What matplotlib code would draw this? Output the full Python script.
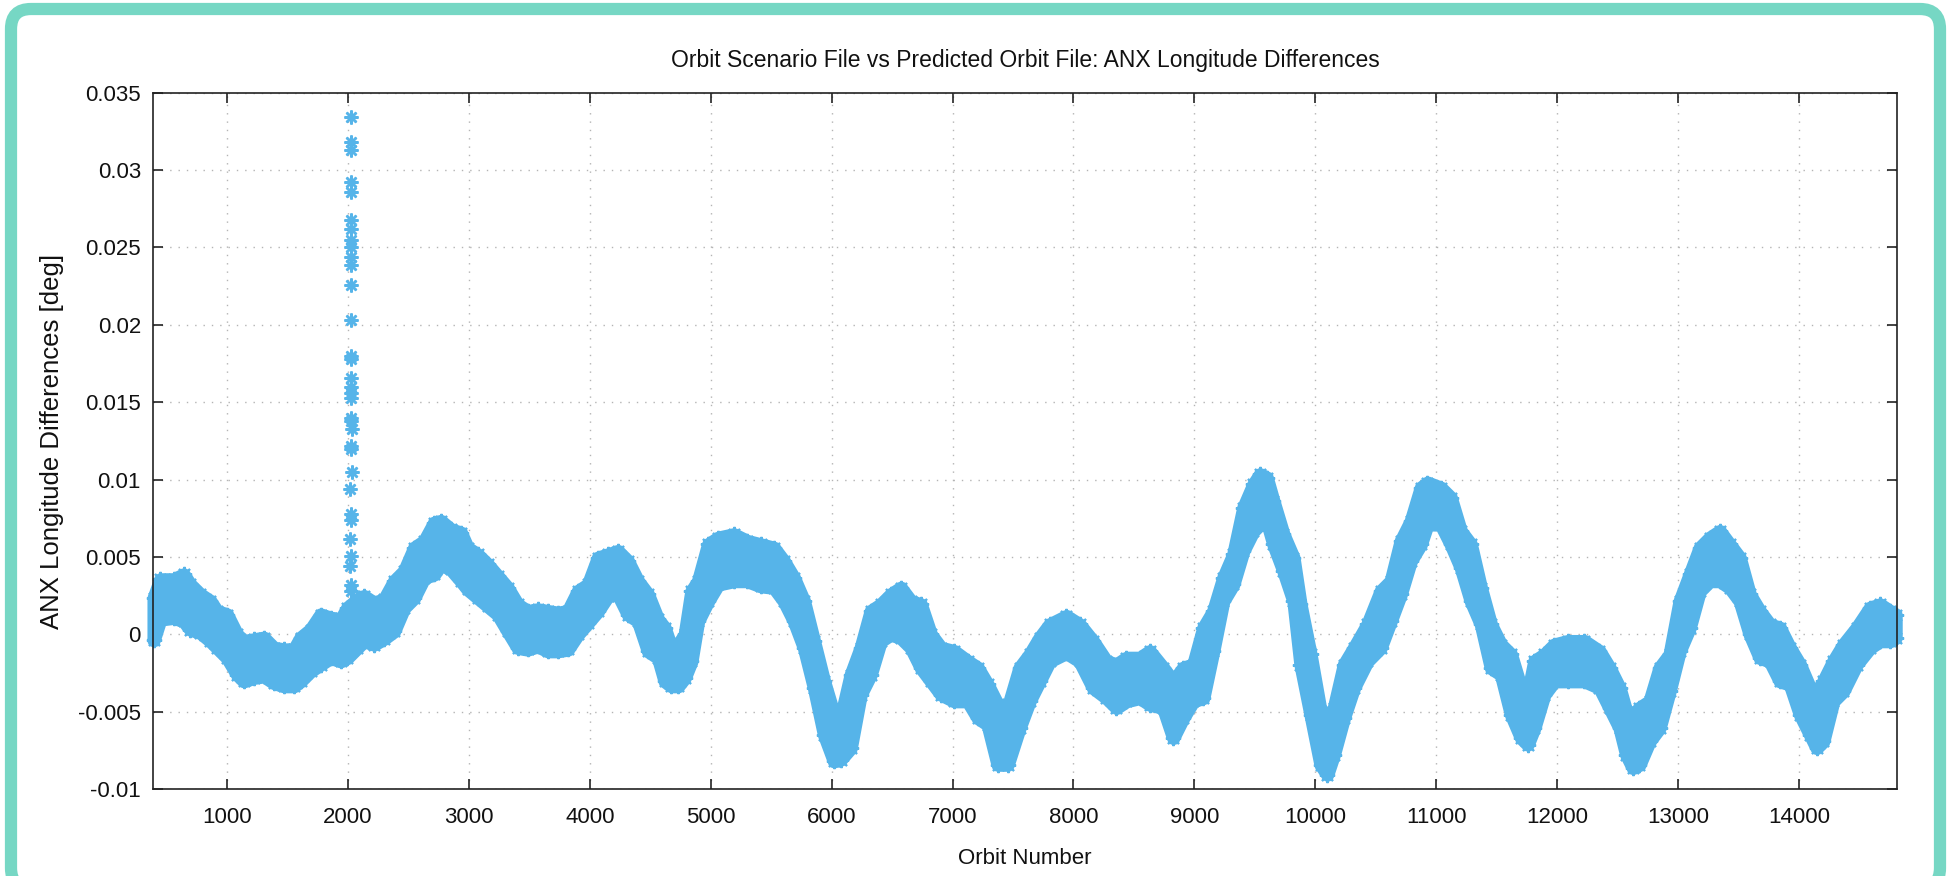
import numpy as np
import matplotlib
matplotlib.use("Agg")
import matplotlib.pyplot as plt
from matplotlib.patches import FancyBboxPatch

plt.rcParams['font.family'] = ['Liberation Sans', 'DejaVu Sans']

# ---- data (orbit number, band envelope in millidegrees) ----
orbit = [392, 447, 557, 640, 695, 778, 861, 916, 999, 1082, 1138, 1220, 1303, 1386, 1469,
         1552, 1607, 1690, 1773, 1856, 1939, 1994, 2077, 2132, 2215, 2298, 2381, 2464,
         2547, 2630, 2712, 2768,
         2851, 2934, 2989, 3072, 3155, 3238, 3320, 3403, 3486, 3569, 3652, 3735, 3818,
         3901, 3984, 4067, 4149, 4232, 4315, 4398, 4481, 4564, 4619, 4674, 4730, 4785,
         4840, 4895, 4978, 5061,
         5191, 5301, 5412, 5522, 5605, 5688, 5771, 5854, 5937, 6019, 6075, 6158, 6240,
         6323, 6406, 6489, 6572, 6655, 6738, 6821, 6904, 7014, 7125, 7208, 7290, 7373, 7456,
         7554, 7637, 7720, 7803, 7941, 8051, 8162, 8272, 8355, 8438, 8549, 8631, 8742,
         8825, 8908, 8991, 9074, 9156, 9239, 9322, 9405, 9488, 9543, 9599, 9654, 9737, 9820,
         9878, 9961, 10044, 10099, 10154, 10237, 10320, 10431, 10541, 10624, 10707, 10790,
         10873, 10928, 11038, 11121, 11204, 11287, 11370, 11453, 11536, 11619, 11702,
         11757, 11812, 11895, 11978, 12088, 12227,
         12351, 12434, 12517, 12572, 12627, 12682, 12765, 12848, 12931, 13014, 13097,
         13180, 13263, 13346, 13428, 13511, 13594, 13677, 13760, 13843, 13926, 14009,
         14092, 14147, 14202, 14285, 14368, 14478, 14589, 14672, 14755, 14800]

upper_mdeg = [2.8, 3.99, 3.99, 4.31, 3.66, 3.02, 2.59, 1.94, 1.72, 0.43, 0.00, 0.11, 0.22, -0.43, -0.54,
              -0.54, 0.22, 0.75, 1.72, 1.51, 1.40, 2.16, 2.69, 2.91, 2.48, 2.70, 3.88, 4.53,
              6.03, 6.47, 7.65, 7.76,
              7.22, 7.00, 6.03, 5.60, 4.96, 4.20, 3.45, 2.37, 1.94, 2.05, 1.94, 1.83, 1.94,
              3.23, 3.66, 5.39, 5.60, 5.82, 5.17, 3.88, 3.02, 1.40, 0.86, -0.43, -0.22, 0.43,
              3.23, 3.88, 6.25, 6.68,
              6.90, 6.47, 6.25, 6.03, 5.17, 4.09, 2.59, 0.00, -2.59, -4.74, -4.96, -2.16, -0.43,
              1.94, 2.37, 3.02, 3.45, 2.59, 2.37, 0.43, -0.43, -0.65, -1.29, -1.72, -2.80, -4.09, -4.31,
              -1.72, -0.86, 0.22, 1.08, 1.62, 1.08, 0.00, -1.29, -1.51, -1.08, -1.08, -0.65, -1.72,
              -2.59, -1.72, -1.51, 0.86, 1.94, 4.09, 5.60, 8.62, 10.13, 10.78, 10.56, 9.05, 6.90, 5.39,
              2.37, -0.86, -4.53, -5.39, -4.31, -1.51, -0.43, 1.08, 3.23, 3.88, 6.47, 7.76,
              9.91, 10.24, 9.91, 9.27, 7.11, 6.25, 3.45, 1.08, -0.22, -0.86, -3.02,
              -3.45, -1.29, -0.86, -0.22, 0.00, 0.00,
              -0.65, -1.72, -3.02, -4.53, -4.74, -4.31, -3.88, -1.72, -0.86, 2.59, 4.31,
              6.03, 6.68, 7.11, 6.25, 5.39, 3.02, 1.94, 1.08, 0.86, -0.43, -1.51,
              -3.02, -3.66, -2.59, -1.29, -0.22, 0.86, 2.16, 2.37, 1.94, 1.72]

lower_mdeg = [-0.8, 0.54, 0.65, 0.43, -0.11, -0.32, -0.86, -1.29, -1.94, -3.02, -3.45, -3.23, -3.13, -3.56, -3.77,
              -3.77, -3.45, -2.80, -2.37, -1.94, -2.16, -1.94, -1.29, -0.86, -1.08, -0.70, -0.22, 1.29,
              1.94, 3.23, 3.45, 4.09,
              3.77, 3.02, 2.48, 1.94, 1.40, 0.86, -0.22, -1.29, -1.40, -1.19, -1.51, -1.51, -1.40,
              -0.43, 0.32, 1.08, 2.05, 2.16, 0.86, 0.43, -1.51, -1.94, -3.45, -3.77, -3.77, -3.23,
              -2.16, 0.43, 1.72, 2.80,
              3.02, 3.02, 2.69, 2.59, 1.72, 0.43, -1.29, -3.88, -6.90, -8.62, -8.51, -7.76, -4.31,
              -3.02, -0.86, -0.43, -0.65, -1.29, -2.59, -3.45, -4.31, -4.74, -4.74, -5.82, -6.25, -8.84, -8.84,
              -6.47, -4.74, -3.45, -2.16, -1.62, -2.16, -3.88, -4.53, -5.17, -4.74, -4.53, -4.96, -5.17,
              -7.11, -5.82, -4.74, -4.53, -1.51, 1.72, 2.80, 4.96, 6.25, 6.68, 6.90, 5.39, 3.66, 1.72,
              -2.37, -5.60, -8.84, -9.48, -8.19, -5.82, -3.88, -2.16, -1.29, 0.43, 2.16, 4.31,
              5.39, 6.68, 6.68, 5.39, 3.88, 1.72, 0.22, -2.59, -3.02, -5.60, -7.11,
              -7.54, -6.47, -4.31, -3.45, -3.45, -3.45,
              -3.88, -5.17, -6.47, -8.19, -9.05, -8.84, -7.33, -6.47, -4.09, -1.51, 0.00,
              2.37, 3.02, 3.02, 2.59, 1.72, -0.43, -1.94, -2.16, -3.45, -3.66, -5.60,
              -6.90, -7.76, -7.33, -4.74, -4.09, -2.37, -1.29, -0.86, -0.86, -0.65]

# isolated outliers near orbit 2020 (degrees)
spike_orbit = [2022, 2024, 2026, 2022, 2024, 2024, 2022, 2026, 2022, 2024, 2022, 2022, 2024,
               2024, 2028, 2022, 2022, 2024, 2026, 2022, 2028, 2030, 2026, 2022, 2030, 2020,
               2026, 2022, 2020, 2022, 2020, 2026, 2022]
spike_value = [0.0334, 0.0318, 0.0313, 0.0292, 0.0286, 0.0268, 0.0262, 0.0255, 0.0250, 0.0244,
               0.0239, 0.0226, 0.0203, 0.0180, 0.0178, 0.0166, 0.0160, 0.0156, 0.0153, 0.0140,
               0.0138, 0.0133, 0.0122, 0.0120, 0.0105, 0.0094, 0.0078, 0.0074, 0.0062, 0.0051,
               0.0044, 0.0032, 0.0028]

x_ticks = [1000, 2000, 3000, 4000, 5000, 6000, 7000, 8000, 9000, 10000, 11000, 12000, 13000, 14000]
y_ticks = [-0.01, -0.005, 0, 0.005, 0.01, 0.015, 0.02, 0.025, 0.03, 0.035]
y_tick_labels = ['-0.01', '-0.005', '0', '0.005', '0.01', '0.015', '0.02', '0.025', '0.03', '0.035']

title = 'Orbit Scenario File vs Predicted Orbit File: ANX Longitude Differences'
x_label = 'Orbit Number'
y_label = 'ANX Longitude Differences [deg]'

# ---- drawing ----
blue = '#56B4E9'
teal = '#76D7C4'

fig = plt.figure(figsize=(19.49, 8.76), dpi=100)
fig.patch.set_facecolor('white')

border = FancyBboxPatch((11, -12), 1929, 879, boxstyle="round,pad=0,rounding_size=20",
                        transform=None, fill=False, ec=teal, lw=8.8, zorder=0)
fig.add_artist(border)

ax = fig.add_axes([0.0787, 0.0990, 0.8945, 0.7952])

x = np.array(orbit, dtype=float)
up = np.array(upper_mdeg) * 1e-3
lo = np.array(lower_mdeg) * 1e-3
pad = 0.00043          # half the marker footprint, in data units
star = (8, 2, 0)       # gnuplot-like asterisk (+ and x)

ax.fill_between(x, lo + pad, up - pad, facecolor=blue, edgecolor=blue,
                lw=9.6, joinstyle='round', zorder=3, clip_on=False)
ax.plot(x, up - pad, ls='none', marker=star, ms=11, mew=1.5, color=blue, zorder=3, clip_on=False)
ax.plot(x, lo + pad, ls='none', marker=star, ms=11, mew=1.5, color=blue, zorder=3, clip_on=False)
ax.plot(spike_orbit, spike_value, ls='none', marker=star, ms=10, mew=1.8, color=blue, zorder=3)

ax.set_xlim(390, 14810)
ax.set_ylim(-0.01, 0.035)
ax.set_xticks(x_ticks)
ax.set_xticklabels([str(t) for t in x_ticks])
ax.set_yticks(y_ticks)
ax.set_yticklabels(y_tick_labels)

ax.grid(True, color='#b4b4b4', linestyle=(0, (1, 5)), linewidth=1.0, zorder=1)
ax.set_axisbelow(True)
ax.tick_params(direction='in', length=7, width=1.1, top=True, right=True,
               labelsize=16, colors='#111111')
ax.tick_params(axis='x', pad=13)
ax.tick_params(axis='y', pad=9)
for s in ax.spines.values():
    s.set_linewidth(1.2)
    s.set_color('#222222')
    s.set_zorder(4)

ax.set_title(title, fontsize=16.5, pad=18.5, color='#111111')
ax.set_xlabel(x_label, fontsize=16, labelpad=14, color='#111111')
ax.set_ylabel(y_label, fontsize=18.5, labelpad=10, color='#111111')

fig.savefig('out.png', dpi=100)
